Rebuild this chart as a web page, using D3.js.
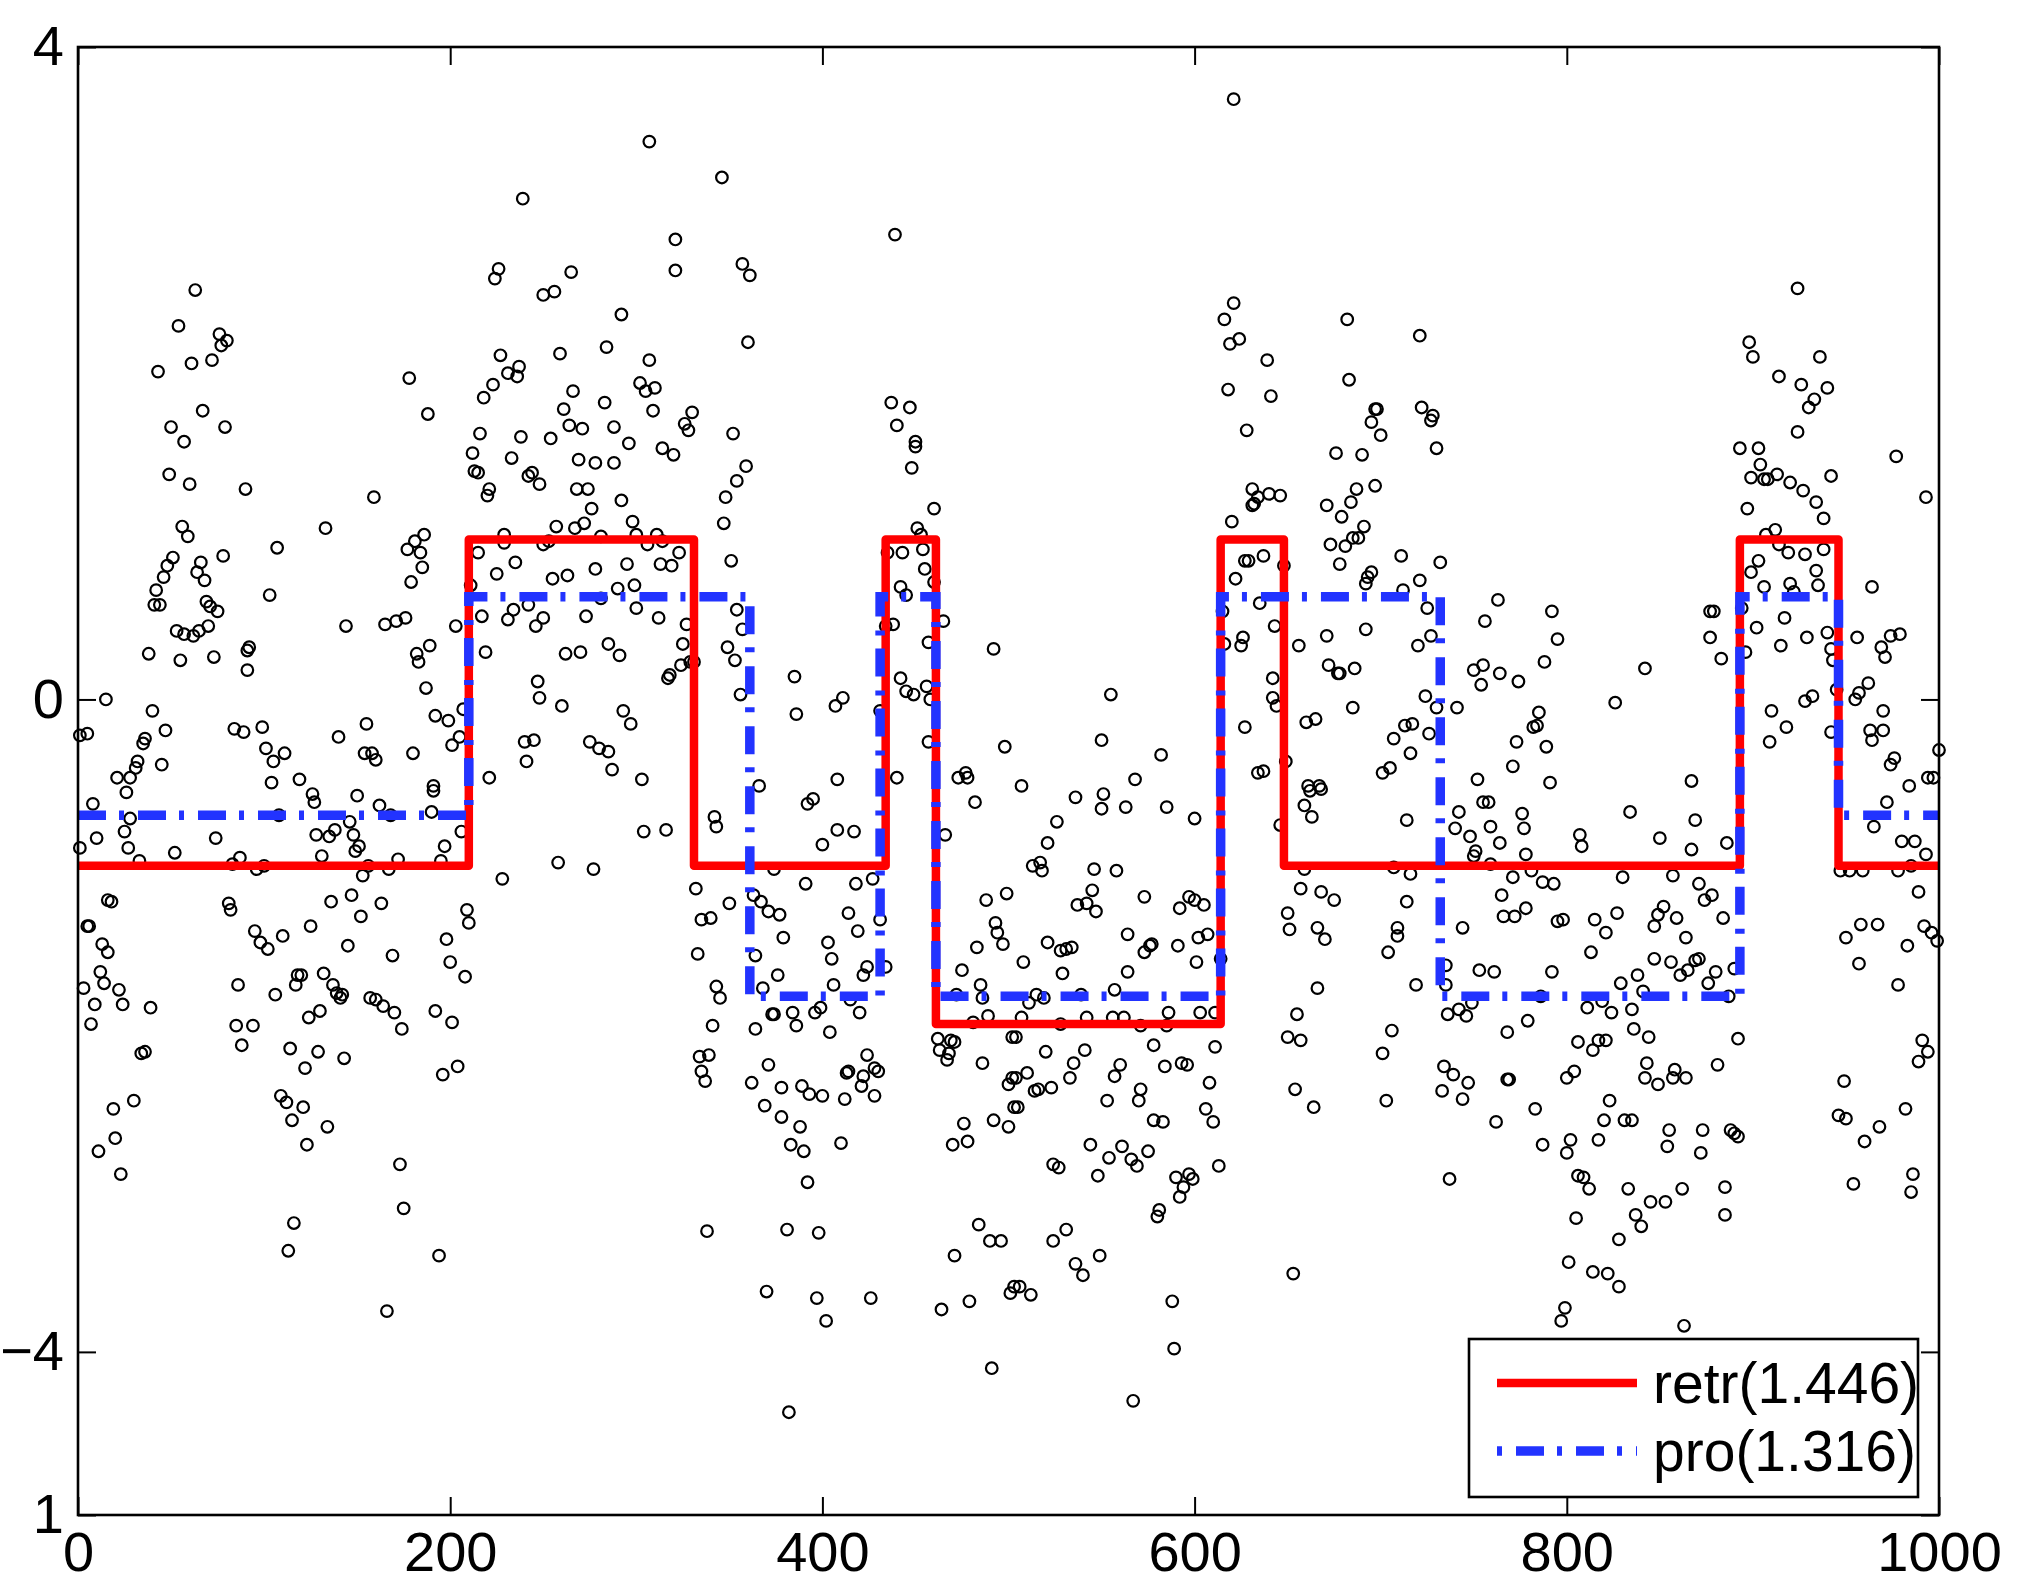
<!DOCTYPE html>
<html>
<head>
<meta charset="utf-8">
<script src="https://cdn.jsdelivr.net/npm/d3@7"></script>
<style>
  html, body { margin: 0; padding: 0; background: #fff; }
  svg { display: block; }
  text { font-family: "Liberation Sans", Arial, Helvetica, sans-serif; }
</style>
</head>
<body>
<svg id="chart" width="2017" height="1583"></svg>
<script>
// ---------------- data ----------------
const xTicks = [0, 200, 400, 600, 800, 1000];
const yTicks = [-5, -4, 0, 4];
const yTickLabels = ["1", "\u22124", "0", "4"];

const seriesNames = ["retr(1.446)", "pro(1.316)"];

// step series: change points (x) and level held after each change point
const retrEdges = [0, 210, 331, 434, 461, 614, 648, 893, 946, 1000];
const retrLevels = [-1.02, 0.98, -1.02, 0.98, -1.99, 0.98, -1.02, 0.98, -1.02];
const proEdges = [0, 210, 361, 431, 461, 614, 732, 893, 946, 1000];
const proLevels = [-0.71, 0.63, -1.82, 0.63, -1.82, 0.63, -1.82, 0.63, -0.71];

// scatter observations [x, y]
const pointsA = [[239,3.07],[226,2.64],[224,2.58],[250,2.48],[63,2.51],[54,2.29],[76,2.24],[80,2.20],[77,2.17],[61,2.06],[72,2.08],[43,2.01],[178,1.97],[227,2.11],[231,2.00],[236,1.98],[237,2.04],[223,1.93],[218,1.85],[67,1.77],[188,1.75],[50,1.67],[79,1.67],[57,1.58],[216,1.63],[238,1.61],[212,1.51],[233,1.48],[213,1.40],[215,1.39],[244,1.39],[242,1.37],[248,1.32],[221,1.29],[220,1.25],[49,1.38],[60,1.32],[90,1.29],[159,1.24],[133,1.05],[56,1.06],[59,1.00],[107,0.93],[78,0.88],[51,0.87],[48,0.82],[46,0.75],[66,0.84],[64,0.78],[68,0.73],[42,0.67],[41,0.58],[44,0.58],[69,0.60],[71,0.57],[75,0.54],[103,0.64],[177,0.92],[181,0.97],[186,1.01],[184,0.90],[185,0.81],[179,0.72],[211,0.70],[215,0.90],[229,1.01],[229,0.96],[225,0.77],[235,0.84],[250,0.95],[217,0.51],[234,0.55],[231,0.49],[242,0.58],[246,0.45],[250,0.50],[203,0.45],[165,0.46],[171,0.48],[176,0.50],[144,0.45],[53,0.42],[57,0.40],[62,0.39],[65,0.42],[70,0.45],[38,0.28],[55,0.24],[73,0.26],[92,0.32],[91,0.30],[91,0.18],[189,0.33],[182,0.28],[183,0.23],[219,0.29],[187,0.07],[247,0.11],[248,0.01],[15,0.00],[40,-0.07],[1,-0.22],[5,-0.21],[47,-0.19],[36,-0.24],[35,-0.27],[32,-0.38],[31,-0.42],[21,-0.48],[28,-0.48],[45,-0.40],[84,-0.18],[89,-0.20],[99,-0.17],[101,-0.30],[105,-0.38],[111,-0.33],[104,-0.51],[119,-0.49],[140,-0.23],[155,-0.15],[154,-0.33],[158,-0.33],[160,-0.37],[180,-0.33],[192,-0.10],[199,-0.13],[207,-0.06],[205,-0.23],[201,-0.28],[191,-0.53],[221,-0.48],[240,-0.26],[245,-0.25],[241,-0.38]];
const pointsB = [[26,-0.57],[8,-0.64],[28,-0.73],[25,-0.81],[10,-0.85],[1,-0.91],[27,-0.91],[33,-0.99],[52,-0.94],[74,-0.85],[83,-1.01],[87,-0.97],[96,-1.04],[100,-1.02],[108,-0.71],[126,-0.58],[127,-0.63],[128,-0.83],[131,-0.96],[135,-0.84],[138,-0.80],[150,-0.59],[146,-0.75],[148,-0.83],[149,-0.93],[151,-0.90],[162,-0.65],[168,-0.71],[156,-1.02],[153,-1.08],[167,-1.04],[172,-0.98],[191,-0.56],[190,-0.69],[197,-0.90],[195,-0.99],[206,-0.81],[228,-1.10],[16,-1.23],[18,-1.24],[5,-1.39],[6,-1.39],[13,-1.50],[16,-1.55],[12,-1.67],[14,-1.74],[3,-1.77],[22,-1.78],[9,-1.87],[24,-1.87],[39,-1.89],[7,-1.99],[34,-2.17],[36,-2.16],[19,-2.51],[30,-2.46],[20,-2.69],[11,-2.77],[23,-2.91],[81,-1.25],[82,-1.29],[95,-1.42],[98,-1.49],[102,-1.53],[110,-1.45],[125,-1.39],[136,-1.24],[147,-1.20],[152,-1.33],[163,-1.25],[145,-1.51],[169,-1.57],[209,-1.29],[210,-1.37],[198,-1.47],[200,-1.61],[208,-1.70],[86,-1.75],[106,-1.81],[117,-1.75],[118,-1.69],[120,-1.69],[132,-1.68],[137,-1.75],[139,-1.80],[141,-1.83],[142,-1.81],[130,-1.91],[124,-1.95],[157,-1.83],[160,-1.84],[164,-1.88],[170,-1.92],[174,-2.02],[192,-1.91],[201,-1.98],[85,-2.00],[94,-2.00],[88,-2.12],[114,-2.14],[129,-2.16],[143,-2.20],[122,-2.26],[196,-2.30],[204,-2.25],[109,-2.43],[112,-2.47],[121,-2.50],[115,-2.58],[134,-2.62],[123,-2.73],[173,-2.85],[175,-3.12],[116,-3.21],[113,-3.38],[194,-3.41],[166,-3.75]];
const pointsC = [[307,3.42],[346,3.20],[321,2.82],[321,2.63],[357,2.67],[361,2.60],[439,2.85],[265,2.62],[256,2.50],[292,2.36],[360,2.19],[259,2.12],[284,2.16],[307,2.08],[266,1.89],[302,1.94],[305,1.89],[310,1.91],[261,1.78],[283,1.82],[309,1.77],[330,1.76],[326,1.69],[328,1.65],[264,1.68],[271,1.66],[288,1.67],[254,1.60],[296,1.57],[352,1.63],[314,1.54],[320,1.50],[269,1.47],[278,1.45],[288,1.45],[359,1.43],[354,1.34],[348,1.24],[347,1.08],[268,1.29],[274,1.29],[292,1.22],[276,1.17],[298,1.09],[257,1.06],[267,1.05],[272,1.08],[281,1.00],[253,0.97],[300,1.01],[306,0.95],[311,1.01],[314,0.97],[323,0.90],[313,0.83],[319,0.82],[295,0.83],[278,0.80],[263,0.76],[255,0.74],[290,0.68],[299,0.70],[281,0.62],[351,0.85],[354,0.55],[357,0.43],[300,0.56],[273,0.51],[312,0.50],[327,0.46],[325,0.34],[285,0.34],[291,0.27],[262,0.28],[270,0.29],[324,0.21],[329,0.23],[331,0.23],[317,0.13],[318,0.15],[349,0.32],[353,0.24],[356,0.03],[260,-0.04],[293,-0.07],[297,-0.15],[275,-0.26],[280,-0.30],[285,-0.32],[287,-0.43],[303,-0.49],[385,0.14],[386,-0.09],[407,-0.04],[411,0.01],[408,-0.49],[366,-0.53],[437,1.82],[447,1.79],[440,1.68],[450,1.58],[450,1.55],[448,1.42],[460,1.17],[451,1.05],[453,1.01],[435,0.90],[443,0.90],[454,0.92],[455,0.80],[460,0.72],[442,0.69],[445,0.64],[438,0.46],[434,0.45],[465,0.48],[457,0.35],[492,0.31],[442,0.13],[445,0.05],[449,0.03],[456,0.08],[458,0.00],[431,-0.07],[457,-0.26],[498,-0.29],[440,-0.48],[473,-0.48],[477,-0.45],[478,-0.48]];
const pointsD = [[304,-0.81],[316,-0.80],[258,-1.00],[277,-1.04],[342,-0.72],[343,-0.78],[392,-0.64],[395,-0.61],[408,-0.80],[417,-0.81],[400,-0.89],[482,-0.63],[466,-0.83],[374,-1.04],[391,-1.13],[418,-1.13],[427,-1.10],[332,-1.16],[350,-1.25],[335,-1.35],[340,-1.34],[363,-1.20],[367,-1.24],[371,-1.30],[377,-1.32],[414,-1.31],[431,-1.35],[419,-1.42],[379,-1.46],[403,-1.49],[405,-1.59],[333,-1.56],[364,-1.57],[376,-1.69],[424,-1.64],[422,-1.69],[434,-1.64],[406,-1.75],[343,-1.76],[345,-1.83],[368,-1.77],[415,-1.84],[373,-1.93],[374,-1.93],[384,-1.92],[396,-1.92],[399,-1.89],[420,-1.92],[341,-2.00],[364,-2.02],[386,-2.00],[404,-2.04],[334,-2.19],[339,-2.18],[335,-2.28],[337,-2.34],[371,-2.24],[362,-2.35],[378,-2.38],[389,-2.37],[393,-2.42],[400,-2.43],[369,-2.49],[378,-2.56],[388,-2.62],[383,-2.73],[390,-2.77],[392,-2.96],[410,-2.72],[412,-2.45],[413,-2.29],[414,-2.28],[424,-2.18],[422,-2.31],[421,-2.37],[428,-2.26],[430,-2.28],[428,-2.43],[338,-3.26],[381,-3.25],[398,-3.27],[370,-3.63],[397,-3.67],[426,-3.67],[402,-3.81],[382,-4.37],[462,-2.08],[463,-2.15],[467,-2.21],[468,-2.17],[469,-2.09],[471,-2.10],[472,-1.81],[475,-1.66],[483,-1.52],[488,-1.23],[493,-1.37],[494,-1.43],[497,-1.50],[499,-1.19],[485,-1.75],[486,-1.83],[481,-1.98],[489,-1.94],[486,-2.23],[502,-2.07],[500,-2.36],[502,-2.32],[503,-2.50],[476,-2.60],[470,-2.73],[478,-2.71],[492,-2.58],[500,-2.62],[484,-3.22],[490,-3.32],[496,-3.32],[471,-3.41],[464,-3.74],[479,-3.69],[501,-3.64],[503,-3.60],[491,-4.10]];
const pointsE = [[621,3.68],[621,2.43],[616,2.33],[619,2.18],[624,2.21],[639,2.08],[618,1.90],[641,1.86],[628,1.65],[631,1.29],[634,1.24],[631,1.19],[632,1.20],[640,1.26],[646,1.25],[620,1.09],[627,0.85],[629,0.85],[637,0.88],[648,0.82],[622,0.74],[635,0.59],[615,0.54],[643,0.45],[626,0.38],[625,0.33],[616,0.34],[656,0.33],[642,0.13],[642,0.01],[644,-0.04],[627,-0.17],[649,-0.38],[634,-0.45],[637,-0.44],[555,0.03],[550,-0.25],[582,-0.34],[568,-0.49],[507,-0.53],[682,2.33],[683,1.96],[721,2.23],[697,1.78],[698,1.78],[695,1.70],[700,1.62],[722,1.79],[727,1.71],[728,1.74],[730,1.54],[676,1.51],[690,1.50],[697,1.31],[687,1.29],[684,1.21],[671,1.19],[679,1.12],[691,1.06],[688,0.99],[685,0.99],[673,0.95],[681,0.94],[678,0.83],[711,0.88],[695,0.78],[693,0.75],[692,0.71],[721,0.73],[732,0.84],[712,0.67],[725,0.56],[727,0.39],[720,0.33],[671,0.39],[692,0.43],[672,0.21],[677,0.16],[678,0.16],[686,0.19],[685,-0.05],[660,-0.14],[665,-0.12],[724,0.02],[730,-0.05],[741,-0.05],[713,-0.16],[717,-0.15],[726,-0.21],[707,-0.24],[716,-0.33],[701,-0.45],[705,-0.42],[750,0.18],[755,0.21],[756,0.48],[754,0.09],[752,-0.49],[661,-0.53],[667,-0.53]];
const pointsF = [[536,-0.60],[551,-0.58],[550,-0.67],[563,-0.66],[585,-0.66],[600,-0.73],[526,-0.75],[521,-0.88],[513,-1.02],[517,-1.00],[518,-1.05],[546,-1.04],[558,-1.05],[545,-1.17],[537,-1.26],[542,-1.25],[547,-1.30],[573,-1.21],[592,-1.28],[597,-1.21],[600,-1.23],[605,-1.26],[564,-1.44],[521,-1.49],[528,-1.54],[531,-1.53],[534,-1.52],[573,-1.55],[576,-1.51],[577,-1.50],[591,-1.51],[602,-1.46],[607,-1.44],[508,-1.61],[601,-1.61],[614,-1.59],[529,-1.68],[564,-1.67],[515,-1.81],[519,-1.83],[539,-1.81],[557,-1.78],[511,-1.86],[507,-1.95],[542,-1.95],[556,-1.95],[562,-1.95],[586,-1.92],[603,-1.92],[611,-1.92],[528,-1.99],[571,-2.00],[585,-2.00],[504,-2.07],[578,-2.12],[611,-2.13],[520,-2.16],[541,-2.15],[510,-2.29],[535,-2.23],[533,-2.32],[560,-2.24],[557,-2.31],[584,-2.25],[593,-2.23],[596,-2.24],[608,-2.35],[504,-2.32],[514,-2.40],[516,-2.39],[523,-2.38],[505,-2.50],[553,-2.46],[571,-2.39],[570,-2.46],[606,-2.51],[610,-2.59],[578,-2.58],[583,-2.59],[544,-2.73],[554,-2.81],[561,-2.74],[566,-2.82],[569,-2.86],[575,-2.77],[524,-2.85],[527,-2.87],[548,-2.92],[590,-2.93],[597,-2.91],[599,-2.94],[594,-2.99],[592,-3.05],[613,-2.86],[581,-3.13],[580,-3.17],[531,-3.25],[524,-3.32],[549,-3.41],[536,-3.46],[540,-3.53],[506,-3.60],[512,-3.65],[588,-3.69],[589,-3.98],[567,-4.30],[646,-0.77],[662,-0.56],[668,-0.55],[659,-0.65],[663,-0.72],[659,-1.04],[657,-1.16],[668,-1.18],[675,-1.23],[650,-1.31],[651,-1.41],[666,-1.40],[670,-1.47],[666,-1.77],[655,-1.93],[650,-2.07],[657,-2.09],[654,-2.39],[664,-2.50],[653,-3.52],[707,-1.03],[714,-0.74],[716,-1.07],[714,-1.24],[709,-1.40],[709,-1.45],[704,-1.55],[719,-1.75],[706,-2.03],[701,-2.17],[703,-2.46],[744,-1.40],[742,-0.69],[740,-0.79],[748,-0.84],[751,-0.93],[750,-0.96],[755,-0.63],[735,-1.63],[753,-1.66],[735,-1.75],[736,-1.93],[742,-1.90],[746,-1.94],[749,-1.86],[734,-2.25],[739,-2.30],[747,-2.35],[733,-2.40],[744,-2.45],[737,-2.94]];
const pointsG = [[924,2.52],[898,2.19],[900,2.10],[936,2.10],[914,1.98],[926,1.93],[940,1.91],[933,1.84],[930,1.79],[924,1.64],[893,1.54],[903,1.54],[904,1.44],[899,1.36],[906,1.35],[908,1.35],[913,1.38],[920,1.33],[927,1.28],[942,1.37],[934,1.21],[938,1.11],[897,1.17],[977,1.49],[993,1.24],[912,1.04],[907,1.01],[914,0.95],[919,0.90],[928,0.89],[938,0.92],[903,0.85],[899,0.78],[934,0.79],[906,0.69],[920,0.71],[922,0.66],[935,0.70],[964,0.69],[763,0.61],[792,0.54],[795,0.37],[788,0.23],[764,0.16],[774,0.11],[842,0.19],[826,-0.02],[785,-0.08],[782,-0.17],[784,-0.16],[773,-0.26],[789,-0.29],[771,-0.41],[791,-0.51],[867,-0.50],[877,0.54],[879,0.54],[877,0.38],[883,0.25],[894,0.56],[896,0.29],[902,0.44],[917,0.50],[915,0.33],[929,0.38],[940,0.41],[942,0.31],[943,0.24],[956,0.38],[969,0.32],[974,0.39],[979,0.40],[971,0.26],[945,0.06],[962,0.10],[957,0.04],[955,0.00],[932,0.02],[928,-0.01],[910,-0.07],[918,-0.17],[909,-0.26],[942,-0.20],[970,-0.07],[963,-0.19],[970,-0.19],[964,-0.25],[976,-0.36],[974,-0.40],[1000,-0.31],[994,-0.48],[997,-0.48],[984,-0.53]];
const pointsH = [[758,-0.63],[776,-0.70],[777,-0.79],[759,-0.78],[764,-0.88],[778,-0.95],[759,-1.01],[834,-0.69],[807,-0.83],[808,-0.90],[850,-0.85],[869,-0.74],[867,-0.92],[886,-0.88],[771,-1.09],[781,-1.05],[787,-1.12],[793,-1.13],[830,-1.09],[857,-1.08],[871,-1.13],[765,-1.20],[766,-1.33],[772,-1.33],[778,-1.28],[795,-1.36],[798,-1.35],[815,-1.35],[821,-1.43],[827,-1.31],[813,-1.55],[852,-1.27],[849,-1.32],[847,-1.39],[859,-1.34],[864,-1.46],[878,-1.20],[874,-1.23],[884,-1.34],[761,-1.67],[792,-1.67],[829,-1.74],[838,-1.69],[847,-1.59],[856,-1.61],[861,-1.69],[865,-1.66],[869,-1.60],[871,-1.59],[880,-1.67],[876,-1.74],[890,-1.65],[786,-1.82],[841,-1.79],[887,-1.82],[811,-1.89],[819,-1.85],[824,-1.92],[835,-1.90],[779,-1.97],[768,-2.04],[836,-2.02],[844,-2.07],[892,-2.08],[806,-2.10],[817,-2.09],[821,-2.09],[814,-2.15],[804,-2.28],[800,-2.32],[768,-2.33],[769,-2.33],[843,-2.23],[842,-2.32],[849,-2.36],[858,-2.27],[857,-2.32],[864,-2.32],[881,-2.24],[783,-2.51],[762,-2.59],[823,-2.46],[820,-2.58],[831,-2.58],[835,-2.58],[787,-2.73],[802,-2.70],[800,-2.78],[817,-2.70],[855,-2.64],[854,-2.74],[873,-2.64],[872,-2.78],[888,-2.64],[890,-2.66],[892,-2.68],[806,-2.92],[809,-2.93],[812,-3.00],[833,-3.00],[845,-3.08],[853,-3.08],[862,-3.00],[885,-2.99],[885,-3.16],[805,-3.18],[837,-3.16],[840,-3.23],[828,-3.31],[801,-3.45],[814,-3.51],[822,-3.52],[828,-3.60],[799,-3.73],[797,-3.81],[863,-3.84],[947,-1.05],[952,-1.05],[959,-1.05],[978,-1.05],[985,-1.02],[965,-0.78],[972,-0.63],[980,-0.87],[987,-0.87],[993,-0.95],[989,-1.18],[958,-1.38],[967,-1.38],[950,-1.46],[957,-1.62],[983,-1.51],[992,-1.39],[996,-1.43],[999,-1.48],[978,-1.75],[991,-2.09],[994,-2.16],[989,-2.22],[949,-2.34],[946,-2.55],[950,-2.57],[968,-2.62],[960,-2.71],[982,-2.51],[954,-2.97],[986,-2.91],[985,-3.02]];

// ---------------- drawing ----------------
const svg = d3.select("#chart");
const L = 78, R = 1939, T = 47, B = 1515;
const x = d3.scaleLinear().domain([0, 1000]).range([L, R]);
const y = d3.scaleLinear().domain([-5, 4]).range([B, T]);

const points = [].concat(pointsA, pointsB, pointsC, pointsD, pointsE, pointsF, pointsG, pointsH);

function stepData(edges, levels) {
  const d = levels.map((v, i) => [edges[i], v]);
  d.push([edges[edges.length - 1], levels[levels.length - 1]]);
  return d;
}
const line = d3.line().x(d => x(d[0])).y(d => y(d[1])).curve(d3.curveStepAfter);

// scatter
svg.append("g").selectAll("circle").data(points).join("circle")
  .attr("cx", d => x(d[0])).attr("cy", d => y(d[1])).attr("r", 5.8)
  .attr("fill", "none").attr("stroke", "#000").attr("stroke-width", 2.2);

const RED = "#ff0000", BLUE = "#2233ff";
svg.append("path").datum(stepData(retrEdges, retrLevels))
  .attr("d", line).attr("fill", "none").attr("stroke", RED)
  .attr("stroke-width", 8.5).attr("stroke-linejoin", "round");
svg.append("path").datum(stepData(proEdges, proLevels))
  .attr("d", line).attr("fill", "none").attr("stroke", BLUE)
  .attr("stroke-width", 9.5).attr("stroke-dasharray", "28,13,5,14");

// axes (inward ticks on all four sides)
const FONT = 56;
const fmtY = v => yTickLabels[yTicks.indexOf(v)];
const gB = svg.append("g").attr("transform", `translate(0,${B})`)
  .call(d3.axisBottom(x).tickValues(xTicks).tickSizeInner(-18).tickSizeOuter(0).tickPadding(16).tickFormat(d3.format("d")));
const gT = svg.append("g").attr("transform", `translate(0,${T})`)
  .call(d3.axisTop(x).tickValues(xTicks).tickSizeInner(-18).tickSizeOuter(0).tickFormat(""));
const gL = svg.append("g").attr("transform", `translate(${L},0)`)
  .call(d3.axisLeft(y).tickValues(yTicks).tickSizeInner(-18).tickSizeOuter(0).tickPadding(14).tickFormat(fmtY));
const gR = svg.append("g").attr("transform", `translate(${R},0)`)
  .call(d3.axisRight(y).tickValues(yTicks).tickSizeInner(-18).tickSizeOuter(0).tickFormat(""));
[gB, gT, gL, gR].forEach(g => {
  g.select(".domain").remove();
  g.selectAll(".tick line").attr("stroke", "#000").attr("stroke-width", 2);
  g.selectAll("text").attr("font-size", FONT).attr("fill", "#000")
    .style("font-family", '"Liberation Sans", Arial, Helvetica, sans-serif');
});

svg.append("rect").attr("x", L).attr("y", T).attr("width", R - L).attr("height", B - T)
  .attr("fill", "none").attr("stroke", "#000").attr("stroke-width", 2.6);

// legend
const leg = svg.append("g");
leg.append("rect").attr("x", 1469).attr("y", 1339).attr("width", 449).attr("height", 158)
  .attr("fill", "#fff").attr("stroke", "#000").attr("stroke-width", 2.6);
const legRows = [
  { name: seriesNames[0], color: RED, w: 8.5, dash: null, cy: 1383 },
  { name: seriesNames[1], color: BLUE, w: 9.5, dash: "28,13,5,14", cy: 1451 }
];
legRows.forEach(r => {
  const ln = leg.append("line").attr("x1", 1497).attr("x2", 1637).attr("y1", r.cy).attr("y2", r.cy)
    .attr("stroke", r.color).attr("stroke-width", r.w);
  if (r.dash) ln.attr("stroke-dasharray", r.dash).attr("stroke-dashoffset", 41);
  leg.append("text").attr("x", 1653).attr("y", r.cy + 20).attr("font-size", 57)
    .attr("fill", "#000").text(r.name);
});
</script>
</body>
</html>
